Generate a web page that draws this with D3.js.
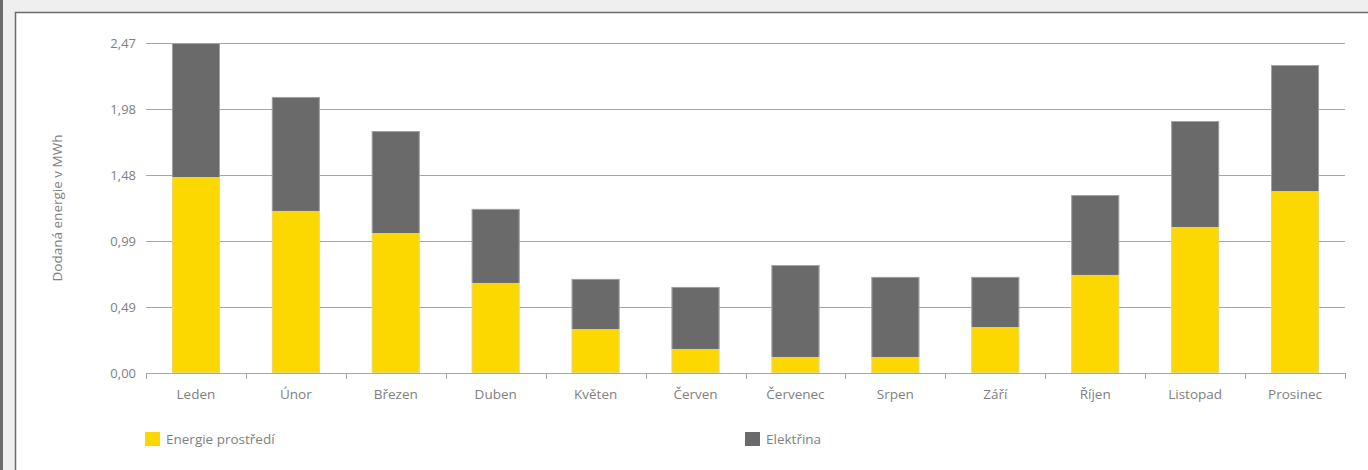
<!DOCTYPE html>
<html>
<head>
<meta charset="utf-8">
<script src="https://cdn.jsdelivr.net/npm/d3@7"></script>
<style>
  html, body { margin: 0; padding: 0; background: #efefef; }
  #chart { position: relative; width: 1368px; height: 470px; }
  text { font-family: "Open Sans", "Noto Sans", sans-serif; fill: #7f7f7f; }
</style>
</head>
<body>
<div id="chart"></div>
<script>
// Data (MWh per month)
const months = ["Leden", "Únor", "Březen", "Duben", "Květen", "Červen",
                "Červenec", "Srpen", "Září", "Říjen", "Listopad", "Prosinec"];
const energieProstredi = [1.467, 1.213, 1.048, 0.674, 0.329, 0.180, 0.120, 0.120, 0.344, 0.734, 1.093, 1.362];
const elektrina = [1.003, 0.853, 0.763, 0.554, 0.375, 0.464, 0.688, 0.599, 0.375, 0.598, 0.793, 0.943];
const yTicks = [0, 0.494, 0.988, 1.482, 1.976, 2.47];
const yTickLabels = ["0,00", "0,49", "0,99", "1,48", "1,98", "2,47"];
const seriesNames = ["Energie prostředí", "Elektřina"];
const colors = ["#fcd800", "#6a6a6a"];

const W = 1368, H = 470;
const margin = { top: 43, right: 23, bottom: 97, left: 146 };
const width = W - margin.left - margin.right;
const height = H - margin.top - margin.bottom;

const root = d3.select("#chart").append("svg")
    .attr("width", W)
    .attr("height", H);

// background frame
root.append("rect").attr("x", 0).attr("y", 0).attr("width", W).attr("height", H).attr("fill", "#efefef");
root.append("rect").attr("x", 0).attr("y", 0).attr("width", 3).attr("height", H).attr("fill", "#6b6b6b");
root.append("rect").attr("x", 15).attr("y", 12).attr("width", W - 15).attr("height", H - 12)
    .attr("fill", "#ffffff");
root.append("path").attr("d", `M15.5,${H} V12.5 H${W}`)
    .attr("fill", "none").attr("stroke", "#6b6b6b").attr("stroke-width", 1.5);

const svg = root.append("g")
    .attr("transform", `translate(${margin.left},${margin.top})`);

// Build rows for the stack
const rows = months.map((m, i) => ({ month: m, e: energieProstredi[i], el: elektrina[i] }));
const stack = d3.stack().keys(["e", "el"])(rows);

const x = d3.scaleBand().domain(months).range([0, width]).paddingInner(0.52).paddingOuter(0.26);
const y = d3.scaleLinear().domain([0, 2.47]).range([height, 0]);

// gridlines
svg.append("g")
    .selectAll("line")
    .data(yTicks.slice(1))
    .join("line")
    .attr("x1", 0).attr("x2", width)
    .attr("y1", d => Math.round(y(d)) + 0.5).attr("y2", d => Math.round(y(d)) + 0.5)
    .attr("stroke", "#a6a6a6").attr("stroke-width", 1);

// y tick labels
svg.append("g")
    .selectAll("text")
    .data(yTicks)
    .join("text")
    .attr("x", -10)
    .attr("y", d => y(d))
    .attr("dy", "0.35em")
    .attr("text-anchor", "end")
    .style("font-size", "13px")
    .text((d, i) => yTickLabels[i]);

// bars
svg.selectAll("g.layer")
    .data(stack)
    .join("g")
    .attr("class", "layer")
    .attr("fill", (d, i) => colors[i])
    .selectAll("rect")
    .data(d => d)
    .join("rect")
    .attr("x", d => x(d.data.month))
    .attr("y", d => y(d[1]))
    .attr("height", d => y(d[0]) - y(d[1]))
    .attr("width", x.bandwidth());

// bar outlines (light edge)
svg.append("g")
    .selectAll("rect")
    .data(rows)
    .join("rect")
    .attr("x", d => x(d.month) + 0.5)
    .attr("y", d => y(d.e + d.el) + 0.5)
    .attr("width", x.bandwidth() - 1)
    .attr("height", d => y(0) - y(d.e + d.el) - 1)
    .attr("fill", "none")
    .attr("stroke", "#d9d9d9")
    .attr("stroke-opacity", 0.5)
    .attr("stroke-width", 1);

// x axis
const xAxis = svg.append("g").attr("transform", `translate(0,${height})`);
xAxis.append("line")
    .attr("x1", 0).attr("x2", width).attr("y1", 0.5).attr("y2", 0.5)
    .attr("stroke", "#a6a6a6");
const step = width / months.length;
xAxis.selectAll("line.tick")
    .data(d3.range(months.length + 1))
    .join("line")
    .attr("class", "tick")
    .attr("x1", d => Math.round(d * step) + 0.5).attr("x2", d => Math.round(d * step) + 0.5)
    .attr("y1", 0).attr("y2", 6)
    .attr("stroke", "#a6a6a6");
xAxis.selectAll("text")
    .data(months)
    .join("text")
    .attr("x", d => x(d) + x.bandwidth() / 2)
    .attr("y", 21)
    .attr("dy", "0.35em")
    .attr("text-anchor", "middle")
    .style("font-size", "13.5px")
    .text(d => d);

// y axis title
root.append("text")
    .attr("transform", `translate(62,208) rotate(-90)`)
    .attr("text-anchor", "middle")
    .style("font-size", "13.5px")
    .text("Dodaná energie v MWh");

// legend
const legendX = [145, 745];
const legend = root.selectAll("g.legend")
    .data(seriesNames)
    .join("g")
    .attr("class", "legend")
    .attr("transform", (d, i) => `translate(${legendX[i]},432)`);
legend.append("rect")
    .attr("width", 15).attr("height", 14)
    .attr("fill", (d, i) => colors[i]);
legend.append("text")
    .attr("x", 21).attr("y", 7)
    .attr("dy", "0.35em")
    .style("font-size", "13.5px")
    .text(d => d);
</script>
</body>
</html>
